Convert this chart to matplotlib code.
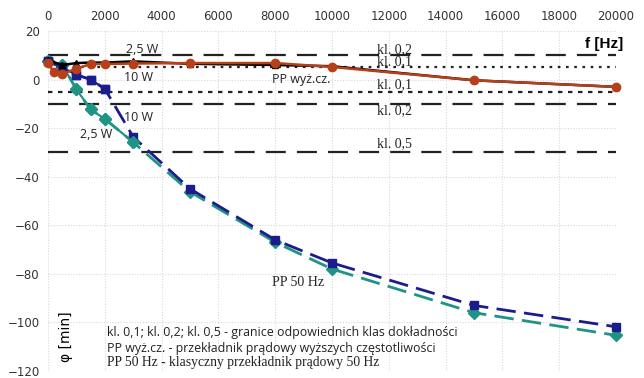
import matplotlib
matplotlib.use("Agg")
import matplotlib.pyplot as plt

# Frequencies [Hz]
f_hf = [0, 500, 1000, 1500, 2000, 3000, 5000, 8000, 10000, 15000, 20000]
f_hf10 = [0, 200, 500, 1000, 1500, 2000, 3000, 5000, 8000, 10000, 15000, 20000]
f_50 = [0, 500, 1000, 1500, 2000, 3000, 5000, 8000, 10000, 15000, 20000]

# PP wyż.cz. (high-frequency CT)
phi_hf_25W = [8.0, 6.0, 6.8, 7.0, 7.0, 7.5, 6.5, 6.0, 5.5, -0.3, -3.0]
phi_hf_10W = [7.0, 3.0, 2.3, 4.5, 6.4, 6.4, 6.6, 6.8, 6.8, 5.2, -0.3, -3.0]

# PP 50 Hz (classic CT)
phi_50_10W = [7.5, 5.0, 2.0, 0.0, -3.8, -23.6, -45.0, -66.0, -75.5, -93.0, -101.8]
phi_50_25W = [7.5, 6.0, -4.0, -12.3, -16.2, -25.8, -46.2, -67.0, -78.0, -96.0, -105.3]

# Accuracy class limits
limit_vals = [10, 5, -5, -10, -30]
limit_styles = [(0, (9, 5)), (0, (1.2, 2.5)), (0, (2, 2.5)), (0, (9, 5)), (0, (9, 5))]

x_ticks = list(range(0, 20001, 2000))
y_ticks = list(range(20, -121, -20))

W, H = 644, 378
fig = plt.figure(figsize=(W / 100, H / 100), dpi=100)
ax = fig.add_axes([48 / W, 1 - 371 / H, (616 - 48) / W, (371 - 31) / H])
ax.set_xlim(0, 20000)
ax.set_ylim(-120, 20)

for s in ax.spines.values():
    s.set_visible(False)
ax.xaxis.tick_top()
ax.set_xticks(x_ticks)
ax.set_yticks(y_ticks)
ax.tick_params(length=0, labelsize=8.5, labelcolor="#333333", pad=6)
ax.grid(True, color="#d8d8d8", linestyle=(0, (1, 1.5)), linewidth=0.8)
ax.set_axisbelow(True)

for v, ls in zip(limit_vals, limit_styles):
    ax.plot([0, 20000], [v, v], color="#222222", linestyle=ls, linewidth=1.6, zorder=2)

navy = "#1c1c8c"
teal = "#1f9484"
brown = "#b5401a"

ax.plot(f_50, phi_50_25W, color=teal, linestyle=(0, (7, 3)), linewidth=2,
        marker="D", markersize=6, clip_on=False, zorder=3)
ax.plot(f_50, phi_50_10W, color=navy, linestyle=(0, (7, 3)), linewidth=2,
        marker="s", markersize=5.5, clip_on=False, zorder=3)
# solid segments at start
ax.plot(f_50[:6], phi_50_25W[:6], color=teal, linewidth=1.6, marker="D",
        markersize=6, clip_on=False, zorder=4)
ax.plot(f_50[:5], phi_50_10W[:5], color=navy, linewidth=1.6, marker="s",
        markersize=5.5, clip_on=False, zorder=4)
ax.plot(f_hf, phi_hf_25W, color="black", linewidth=1.8, marker="^",
        markersize=5, clip_on=False, zorder=5)
ax.plot(f_hf10, phi_hf_10W, color=brown, linewidth=1.8, marker="o",
        markersize=6, clip_on=False, zorder=6)

sans = "Open Sans"
serif = "Liberation Serif"
tc = "#222222"
ax.text(3300, 12.5, "2,5 W", fontsize=9, family=sans, color=tc, ha="center", va="center")
ax.text(3200, 0.8, "10 W", fontsize=9, family=sans, color=tc, ha="center", va="center")
ax.text(3200, -15.6, "10 W", fontsize=9, family=sans, color=tc, ha="center", va="center")
ax.text(1700, -22.6, "2,5 W", fontsize=9, family=sans, color=tc, ha="center", va="center")
ax.text(7900, 0.2, "PP wyż.cz.", fontsize=9, family=sans, color=tc, ha="left", va="center")
ax.text(7900, -83.6, "PP 50 Hz", fontsize=10, family=serif, color=tc, ha="left", va="center")

for y, t in [(12.5, "kl. 0,2"), (7.2, "kl. 0,1"), (-2.0, "kl. 0,1"),
             (-13.0, "kl. 0,2"), (-26.5, "kl. 0,5")]:
    ax.text(11600, y, t, fontsize=10, family=serif, color=tc, ha="left", va="center")

ax.text(20250, 14.5, "f [Hz]", fontsize=11, family="Liberation Sans",
        fontweight="bold", color="black", ha="right", va="center")
ax.text(650, -106, "φ [min]", fontsize=10, family="DejaVu Sans", color="black",
        rotation=90, ha="center", va="center")

ax.text(2080, -104.2, "kl. 0,1; kl. 0,2; kl. 0,5 - granice odpowiednich klas dokładności",
        fontsize=8.9, family=sans, color=tc, ha="left", va="center")
ax.text(2080, -110.8, "PP wyż.cz. - przekładnik prądowy wyższych częstotliwości",
        fontsize=8.9, family=sans, color=tc, ha="left", va="center")
ax.text(2080, -116.6, "PP 50 Hz - klasyczny przekładnik prądowy 50 Hz",
        fontsize=9.8, family=serif, color=tc, ha="left", va="center")

fig.savefig("out.png", dpi=100)
